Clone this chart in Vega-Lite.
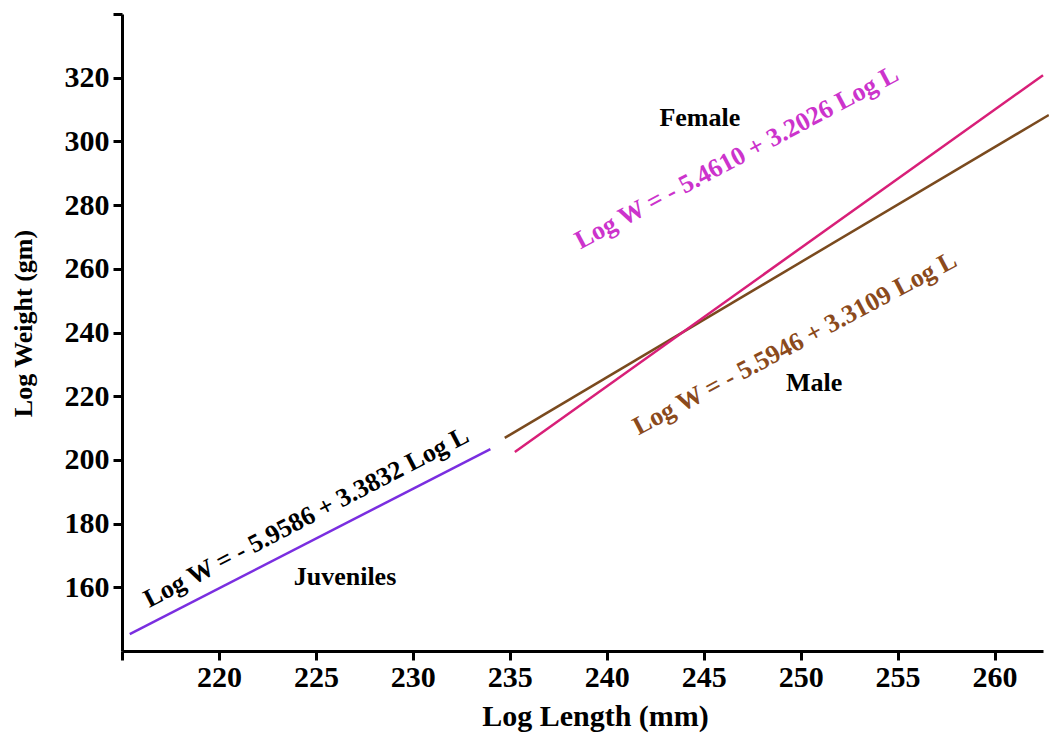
{
  "$schema": "https://vega.github.io/schema/vega-lite/v6.json",
  "autosize": "none",
  "width": 921,
  "height": 637,
  "padding": {"left": 122, "top": 14, "right": 6, "bottom": 84},
  "background": "white",
  "config": {
    "view": {"stroke": null},
    "font": "Liberation Serif",
    "axis": {
      "grid": false,
      "domainColor": "black",
      "domainWidth": 3,
      "tickColor": "black",
      "tickWidth": 3,
      "tickSize": 9,
      "labelFont": "Liberation Serif",
      "labelFontWeight": "bold",
      "labelFontSize": 30,
      "labelColor": "black",
      "titleFont": "Liberation Serif",
      "titleFontWeight": "bold",
      "titleColor": "black"
    }
  },
  "datasets": {
    "lines": [
      {"group": "Juveniles", "length": 215.4, "weight": 145.3},
      {"group": "Juveniles", "length": 234.0, "weight": 203.4},
      {"group": "Male", "length": 234.74, "weight": 206.9},
      {"group": "Male", "length": 262.8, "weight": 308.3},
      {"group": "Female", "length": 235.26, "weight": 202.5},
      {"group": "Female", "length": 262.5, "weight": 320.8}
    ],
    "labels": [
      {"kind": "name", "length": 244.8, "weight": 307.3, "text": "Female"},
      {"kind": "name", "length": 250.7, "weight": 224.1, "text": "Male"},
      {"kind": "name", "length": 226.5, "weight": 163.2, "text": "Juveniles"},
      {"kind": "female", "length": 246.7, "weight": 295.0, "text": "Log W = - 5.4610 + 3.2026 Log L"},
      {"kind": "male", "length": 249.7, "weight": 236.6, "text": "Log W = - 5.5946 + 3.3109 Log L"},
      {"kind": "juvenile", "length": 224.5, "weight": 182.0, "text": "Log W = - 5.9586 + 3.3832 Log L"}
    ]
  },
  "encoding": {
    "x": {
      "field": "length", "type": "quantitative",
      "scale": {"domain": [215, 262.5], "nice": false, "zero": false},
      "axis": {
        "title": "Log Length (mm)", "titleFontSize": 30,
        "titleX": 473, "titleY": 74, "titleBaseline": "alphabetic",
        "values": [215, 220, 225, 230, 235, 240, 245, 250, 255, 260],
        "labelExpr": "datum.value == 215 ? '' : datum.label",
        "labelPadding": 2
      }
    },
    "y": {
      "field": "weight", "type": "quantitative",
      "scale": {"domain": [140, 340], "nice": false, "zero": false},
      "axis": {
        "title": "Log Weight (gm)", "titleFontSize": 26,
        "titleX": -86, "titleY": 309,
        "values": [160, 180, 200, 220, 240, 260, 280, 300, 320, 340],
        "labelExpr": "datum.value == 340 ? '' : datum.label",
        "labelPadding": 4
      }
    }
  },
  "layer": [
    {
      "data": {"name": "lines"},
      "mark": {"type": "line", "strokeWidth": 2.5, "clip": false},
      "encoding": {
        "detail": {"field": "group"},
        "color": {
          "field": "group", "type": "nominal", "legend": null,
          "scale": {"domain": ["Juveniles", "Male", "Female"], "range": ["#7a2ee0", "#7a4a1e", "#d81f78"]}
        }
      }
    },
    {
      "data": {"name": "labels"},
      "transform": [{"filter": "datum.kind == 'name'"}],
      "mark": {"type": "text", "fontSize": 26, "fontWeight": "bold", "color": "black", "font": "Liberation Serif"},
      "encoding": {"text": {"field": "text"}}
    },
    {
      "data": {"name": "labels"},
      "transform": [{"filter": "datum.kind == 'female'"}],
      "mark": {"type": "text", "fontSize": 26, "fontWeight": "bold", "color": "#cc33cc", "angle": -28, "font": "Liberation Serif"},
      "encoding": {"text": {"field": "text"}}
    },
    {
      "data": {"name": "labels"},
      "transform": [{"filter": "datum.kind == 'male'"}],
      "mark": {"type": "text", "fontSize": 26, "fontWeight": "bold", "color": "#8b4a1c", "angle": -28, "font": "Liberation Serif"},
      "encoding": {"text": {"field": "text"}}
    },
    {
      "data": {"name": "labels"},
      "transform": [{"filter": "datum.kind == 'juvenile'"}],
      "mark": {"type": "text", "fontSize": 26, "fontWeight": "bold", "color": "black", "angle": -27.5, "font": "Liberation Serif"},
      "encoding": {"text": {"field": "text"}}
    }
  ]
}
